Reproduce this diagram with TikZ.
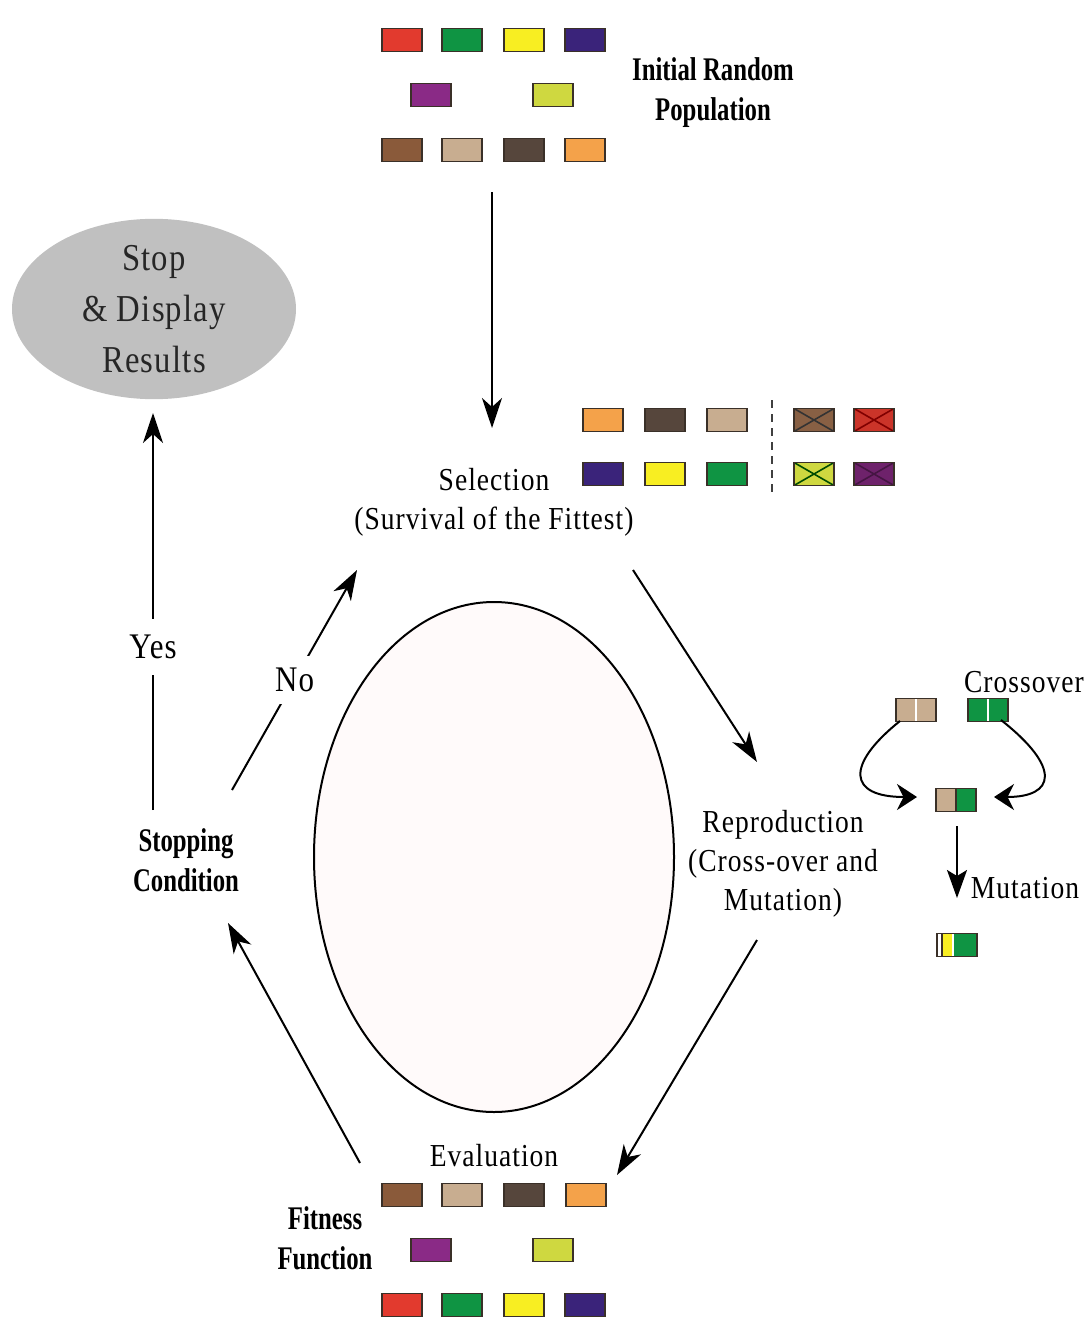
\documentclass[tikz,border=0pt]{standalone}
\usepackage{fontspec}
\setmainfont{Liberation Serif}
\newfontfamily\rg[FakeStretch=0.86,LetterSpace=3.2]{Liberation Serif}
\newfontfamily\bd[FakeStretch=0.75]{Liberation Serif}
\usetikzlibrary{arrows.meta,calc,shapes.geometric}
\definecolor{chromb}{HTML}{3A3028}
\definecolor{cred}{HTML}{E23A2E}
\definecolor{cgreen}{HTML}{0F9443}
\definecolor{cyellow}{HTML}{F8EE22}
\definecolor{cindigo}{HTML}{3A237A}
\definecolor{cpurple}{HTML}{8A2A86}
\definecolor{clime}{HTML}{CFD840}
\definecolor{cbrown}{HTML}{8A5A3A}
\definecolor{ctan}{HTML}{C8AD90}
\definecolor{cdark}{HTML}{56463C}
\definecolor{corange}{HTML}{F4A24A}
\definecolor{stopgray}{HTML}{C0C0C0}
\tikzset{
  chrom/.style={draw=chromb, line width=1.6pt, minimum width=40pt, minimum height=23pt, inner sep=0pt, fill=#1},
  crossed/.style={path picture={\draw[line width=1.6pt,#1] (path picture bounding box.north west)--(path picture bounding box.south east) (path picture bounding box.south west)--(path picture bounding box.north east);}},
  rgtext/.style={font=\rg\fontsize{32}{39}\selectfont, align=center, inner sep=0pt},
  bdtext/.style={font=\bd\bfseries\fontsize{33}{40}\selectfont, align=center, inner sep=0pt},
  arr/.style={line width=2pt, -{Stealth[length=30pt,width=20pt,inset=9pt]}},
  arrc/.style={line width=2pt, -{Stealth[length=20pt,width=26pt]}},
}
\begin{document}
\begin{tikzpicture}[x=1pt,y=-1pt]
\useasboundingbox[fill=white] (0,0) rectangle (1091,1319);

% initial population
\node[chrom=cred]    (i1) at (402,40) {};
\node[chrom=cgreen]  (i2) at (462,40) {};
\node[chrom=cyellow] (i3) at (524,40) {};
\node[chrom=cindigo] (i4) at (585,40) {};
\node[chrom=cpurple] (i5) at (431,95) {};
\node[chrom=clime]   (i6) at (553,95) {};
\node[chrom=cbrown]  (i7) at (402,150) {};
\node[chrom=ctan]    (i8) at (462,150) {};
\node[chrom=cdark]   (i9) at (524,150) {};
\node[chrom=corange] (i10) at (585,150) {};
\node[bdtext] (init) at (713,93) {Initial Random\\Population};

% stop ellipse
\node[ellipse, fill=stopgray, minimum width=284pt, minimum height=164pt, font=\rg\fontsize{38}{51}\selectfont, align=center, inner sep=0pt, text=black!85] (stop) at (154,309) {Stop\\\& Display\\Results};

% selection
\node[chrom=corange] (s1) at (603,420) {};
\node[chrom=cdark]   (s2) at (665,420) {};
\node[chrom=ctan]    (s3) at (727,420) {};
\node[chrom=cbrown!85!gray, crossed=black!80]  (s4) at (814,420) {};
\node[chrom=cred!90!black, crossed={red!50!black}] (s5) at (874,420) {};
\node[chrom=cindigo] (s6) at (603,474) {};
\node[chrom=cyellow] (s7) at (665,474) {};
\node[chrom=cgreen]  (s8) at (727,474) {};
\node[chrom=clime, crossed={black!70!green}] (s9) at (814,474) {};
\node[chrom=cpurple!80!black, crossed={cpurple!50!black}] (s10) at (874,474) {};
\coordinate (d1) at (772,400);
\coordinate (d2) at (772,494);
\draw[line width=2pt, dash pattern=on 8pt off 6pt, black!75] (d1) -- (d2);
\node[rgtext] (sel) at (494,502) {Selection\\(Survival of the Fittest)};

% central cycle
\node[draw, ellipse, line width=2pt, fill=white!98!red, minimum width=360pt, minimum height=510pt] (cycle) at (494,857) {};

% reproduction
\node[rgtext] (rep) at (783,864) {Reproduction\\(Cross-over and\\Mutation)};

% crossover
\node[rgtext] (cxl) at (1024,682) {Crossover};
\node[chrom=ctan, path picture={\draw[white, line width=1.5pt] (path picture bounding box.north) -- (path picture bounding box.south);}] (p1) at (916,710) {};
\node[chrom=cgreen, path picture={\draw[white, line width=1.5pt] (path picture bounding box.north) -- (path picture bounding box.south);}] (p2) at (988,710) {};
\node[chrom=ctan, path picture={\fill[cgreen] (path picture bounding box.north) rectangle (path picture bounding box.south east); \draw[chromb, line width=1.2pt] (path picture bounding box.north) -- (path picture bounding box.south);}] (child) at (956,800) {};
\node[chrom=cgreen, path picture={
  \fill[white] (path picture bounding box.north west) rectangle ($(path picture bounding box.south west)+(5,0)$);
  \fill[cyellow] ($(path picture bounding box.north west)+(5,0)$) rectangle ($(path picture bounding box.south west)+(15,0)$);
  \draw[chromb, line width=1.2pt] ($(path picture bounding box.north west)+(5,0)$) -- ($(path picture bounding box.south west)+(5,0)$);
  \draw[white, line width=1.5pt] ($(path picture bounding box.north west)+(16,0)$) -- ($(path picture bounding box.south west)+(16,0)$);}] (mut) at (957,945) {};
\node[rgtext] (mutl) at (1025,888) {Mutation};
\coordinate (c1s) at (900,721);
\coordinate (c1e) at (917,797);
\coordinate (c2s) at (1001,720);
\coordinate (c2e) at (994,797);
\draw[arrc] (c1s) .. controls (845,765) and (848,797) .. (c1e);
\draw[arrc] (c2s) .. controls (1062,768) and (1055,797) .. (c2e);
\coordinate (m1s) at (957,826);
\coordinate (m1e) at (957,898);
\draw[line width=2pt, -{Stealth[length=28pt,width=20pt,inset=6pt]}] (m1s) -- (m1e);

% evaluation
\node[rgtext] (eval) at (494,1156) {Evaluation};
\node[chrom=cbrown]  (e1) at (402,1195) {};
\node[chrom=ctan]    (e2) at (462,1195) {};
\node[chrom=cdark]   (e3) at (524,1195) {};
\node[chrom=corange] (e4) at (586,1195) {};
\node[chrom=cpurple] (e5) at (431,1250) {};
\node[chrom=clime]   (e6) at (553,1250) {};
\node[chrom=cred]    (e7) at (402,1305) {};
\node[chrom=cgreen]  (e8) at (462,1305) {};
\node[chrom=cyellow] (e9) at (524,1305) {};
\node[chrom=cindigo] (e10) at (585,1305) {};
\node[bdtext] (fit) at (325,1238) {Fitness\\Function};

% stopping condition
\node[bdtext] (stopc) at (186,860) {Stopping\\Condition};

% main arrows
\coordinate (a1s) at (492,192);
\coordinate (a1e) at (492,428);
\draw[arr] (a1s) -- (a1e);
\coordinate (a2s) at (633,570);
\coordinate (a2e) at (757,762);
\draw[arr] (a2s) -- (a2e);
\coordinate (a3s) at (757,940);
\coordinate (a3e) at (617,1175);
\draw[arr] (a3s) -- (a3e);
\coordinate (a4s) at (360,1163);
\coordinate (a4e) at (228,923);
\draw[arr] (a4s) -- (a4e);
\coordinate (a5s) at (232,790);
\coordinate (a5e) at (357,570);
\draw[arr] (a5s) -- node[fill=white, inner xsep=2pt, inner ysep=12pt, font=\rg\fontsize{36}{40}\selectfont] (no) {No} (a5e);
\coordinate (a6s) at (153,810);
\coordinate (a6e) at (153,413);
\draw[arr] (a6s) -- node[fill=white, inner xsep=4pt, inner ysep=16pt, pos=0.41, font=\rg\fontsize{36}{40}\selectfont] (yes) {Yes} (a6e);
\end{tikzpicture}
\end{document}
